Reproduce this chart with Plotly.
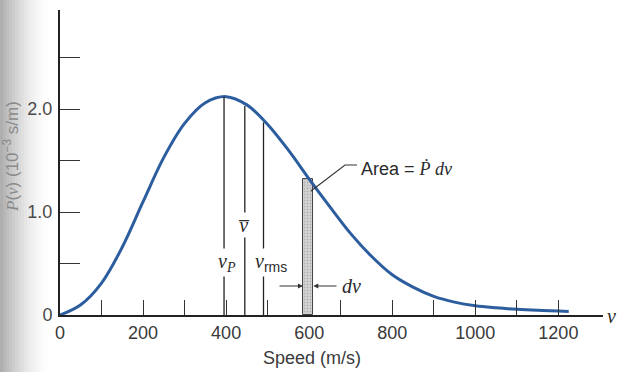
import plotly.graph_objects as go

# ---- data ----
speed = [0, 50, 100, 150, 200, 250, 300, 350, 400, 450, 500, 550, 600,
         650, 700, 750, 800, 850, 900, 950, 1000, 1050, 1100, 1150, 1225]
prob = [0, 0.10, 0.31, 0.66, 1.10, 1.53, 1.86, 2.06, 2.12, 2.04, 1.85, 1.60, 1.32,
        1.05, 0.79, 0.57, 0.39, 0.27, 0.18, 0.125, 0.09, 0.07, 0.055, 0.045, 0.035]

x_label_vals = [0, 200, 400, 600, 800, 1000, 1200]
x_minor_ticks = [100, 200, 300, 400, 500, 675, 800, 900, 1000, 1100, 1200]
y_label_vals = [0, 1.0, 2.0]
y_label_text = ["0", "1.0", "2.0"]
y_minor_ticks = [0.5, 1.0, 1.5, 2.0, 2.5]

mark_speeds = [395, 445, 490]          # v_P, v-bar, v_rms
mark_tops = [2.12, 2.03, 1.87]

strip_lo, strip_hi, strip_height = 585, 610, 1.32

# ---- geometry helpers (pixel layout) ----
W, H = 617, 372
ML, MR, MT, MB = 60, 14, 10, 57
PX_PER_V = 0.4153
PX_PER_P = 103.0
x_max = (W - ML - MR) / PX_PER_V
y_max = (H - MT - MB) / PX_PER_P


def px2paper(px, py):
    return (px - ML) / (W - ML - MR), (H - MB - py) / (H - MT - MB)


def px2data(px, py):
    return (px - ML) / PX_PER_V, (H - MB - py) / PX_PER_P


SERIF = "Liberation Serif"
SANS = "Liberation Sans"
INK = "#2a2a2a"

fig = go.Figure()

fig.add_trace(go.Bar(
    x=[(strip_lo + strip_hi) / 2], y=[strip_height], width=[strip_hi - strip_lo],
    marker=dict(color="#cfcfcf", line=dict(color="#444", width=1),
                pattern=dict(shape=".", fgcolor="#8a8a8a", bgcolor="#d6d6d6", size=3, solidity=0.3)),
    showlegend=False, hoverinfo="skip"))

fig.add_trace(go.Scatter(
    x=speed, y=prob, mode="lines",
    line=dict(color="#2c5d9e", width=3, shape="spline", smoothing=1.0),
    showlegend=False, hoverinfo="skip"))

shapes = []
for v, top in zip(mark_speeds, mark_tops):
    shapes.append(dict(type="line", xref="x", yref="y", x0=v, x1=v, y0=0, y1=top,
                       line=dict(color="#222", width=1.3), layer="above"))

# leader line for the Area label
p1 = px2data(311, 191)
p2 = px2data(345, 165)
p3 = px2data(357, 165)
shapes.append(dict(type="path", xref="x", yref="y",
                   path=f"M {p1[0]},{p1[1]} L {p2[0]},{p2[1]} L {p3[0]},{p3[1]}",
                   line=dict(color="#333", width=1.1)))

# scanned-page shadow on the left edge
n = 16
for i in range(n):
    x0p, x1p = i * 3, (i + 1) * 3
    a = 0.55 * (1 - i / n) ** 1.6
    xa, _ = px2paper(x0p, 0)
    xb, _ = px2paper(x1p, 0)
    shapes.append(dict(type="rect", xref="paper", yref="paper", x0=xa, x1=xb,
                       y0=-MB / (H - MT - MB) - 0.05, y1=1 + MT / (H - MT - MB) + 0.05,
                       fillcolor=f"rgba(110,110,110,{a:.3f})", line=dict(width=0), layer="below"))

ann = []


def serif_i(t):
    return f"<span style='font-family:{SERIF}'><i>{t}</i></span>"


# y-axis title
xp, yp = px2paper(11, 157)
ann.append(dict(xref="paper", yref="paper", x=xp, y=yp, xanchor="center", yanchor="middle",
                textangle=-90, showarrow=False,
                text=serif_i("P") + "(" + serif_i("v") + ") (10<sup>−3</sup> s/m)",
                font=dict(family=SANS, size=17, color="#8a8a8a")))

# x-axis title
xp, yp = px2paper(312, 358)
ann.append(dict(xref="paper", yref="paper", x=xp, y=yp, xanchor="center", yanchor="middle",
                showarrow=False,
                text="Speed (m/s)", font=dict(family=SANS, size=18, color="#3a3a3a")))

# axis variable at right end
xp, yp = px2paper(605, 316)
ann.append(dict(xref="paper", yref="paper", x=xp, y=yp, showarrow=False, xanchor="left",
                yanchor="middle", text="<i>v</i>", font=dict(family=SERIF, size=20, color=INK)))

# labels on the characteristic speeds
lx, ly = px2data(227, 262)
ann.append(dict(xref="x", yref="y", x=lx, y=ly, showarrow=False, bgcolor="white", borderpad=1,
                xanchor="center", yanchor="middle",
                text="<i>v</i><sub><i>P</i></sub>", font=dict(family=SERIF, size=20, color=INK)))
lx, ly = px2data(244, 225)
ann.append(dict(xref="x", yref="y", x=lx, y=ly, showarrow=False, bgcolor="white", borderpad=1,
                xanchor="center", yanchor="middle",
                text="<i>v\u0305</i>", font=dict(family=SERIF, size=20, color=INK)))
lx, ly = px2data(271, 262)
ann.append(dict(xref="x", yref="y", x=lx, y=ly, showarrow=False, bgcolor="white", borderpad=1,
                xanchor="center", yanchor="middle",
                text="<i>v</i><sub><span style='font-family:Liberation Sans'>rms</span></sub>",
                font=dict(family=SERIF, size=20, color=INK)))

# dv arrows
ay_ = px2data(0, 286)[1]
ann.append(dict(xref="x", yref="y", axref="x", ayref="y", x=strip_lo, y=ay_,
                ax=px2data(278, 0)[0], ay=ay_, showarrow=True, arrowhead=2, arrowsize=1,
                arrowwidth=1, arrowcolor="#333", text=""))
ann.append(dict(xref="x", yref="y", axref="x", ayref="y", x=strip_hi, y=ay_,
                ax=px2data(338, 0)[0], ay=ay_, showarrow=True, arrowhead=2, arrowsize=1,
                arrowwidth=1, arrowcolor="#333", text=""))
lx, ly = px2data(340, 286)
ann.append(dict(xref="x", yref="y", x=lx, y=ly, xanchor="left", yanchor="middle", showarrow=False,
                text="<i>dv</i>", font=dict(family=SERIF, size=20, color=INK)))

# Area label
lx, ly = px2data(359, 169)
ann.append(dict(xref="x", yref="y", x=lx, y=ly, xanchor="left", yanchor="middle", showarrow=False,
                text="Area = " + serif_i("\u1E56 dv"),
                font=dict(family=SANS, size=18, color=INK)))

fig.update_layout(
    width=W, height=H,
    margin=dict(l=ML, r=MR, t=MT, b=MB, pad=0),
    paper_bgcolor="white", plot_bgcolor="rgba(0,0,0,0)",
    shapes=shapes, annotations=ann, bargap=0,
    xaxis=dict(range=[0, x_max], showgrid=False, zeroline=False, showline=True,
               linecolor="#222", linewidth=2,
               tickmode="array", tickvals=x_label_vals, ticks="",
               tickfont=dict(family=SANS, size=18, color="#3a3a3a"),
               minor=dict(tickmode="array", tickvals=x_minor_ticks, ticks="inside",
                          ticklen=15, tickcolor="#333", tickwidth=1.3)),
    yaxis=dict(range=[0, y_max], showgrid=False, zeroline=False, showline=True,
               linecolor="#222", linewidth=2,
               tickmode="array", tickvals=y_label_vals, ticktext=y_label_text, ticks="",
               ticklabelstandoff=2,
               tickfont=dict(family=SANS, size=18, color="#4a4a4a"),
               minor=dict(tickmode="array", tickvals=y_minor_ticks, ticks="inside",
                          ticklen=20, tickcolor="#333", tickwidth=1.3)),
)

fig.write_html("out.html")
